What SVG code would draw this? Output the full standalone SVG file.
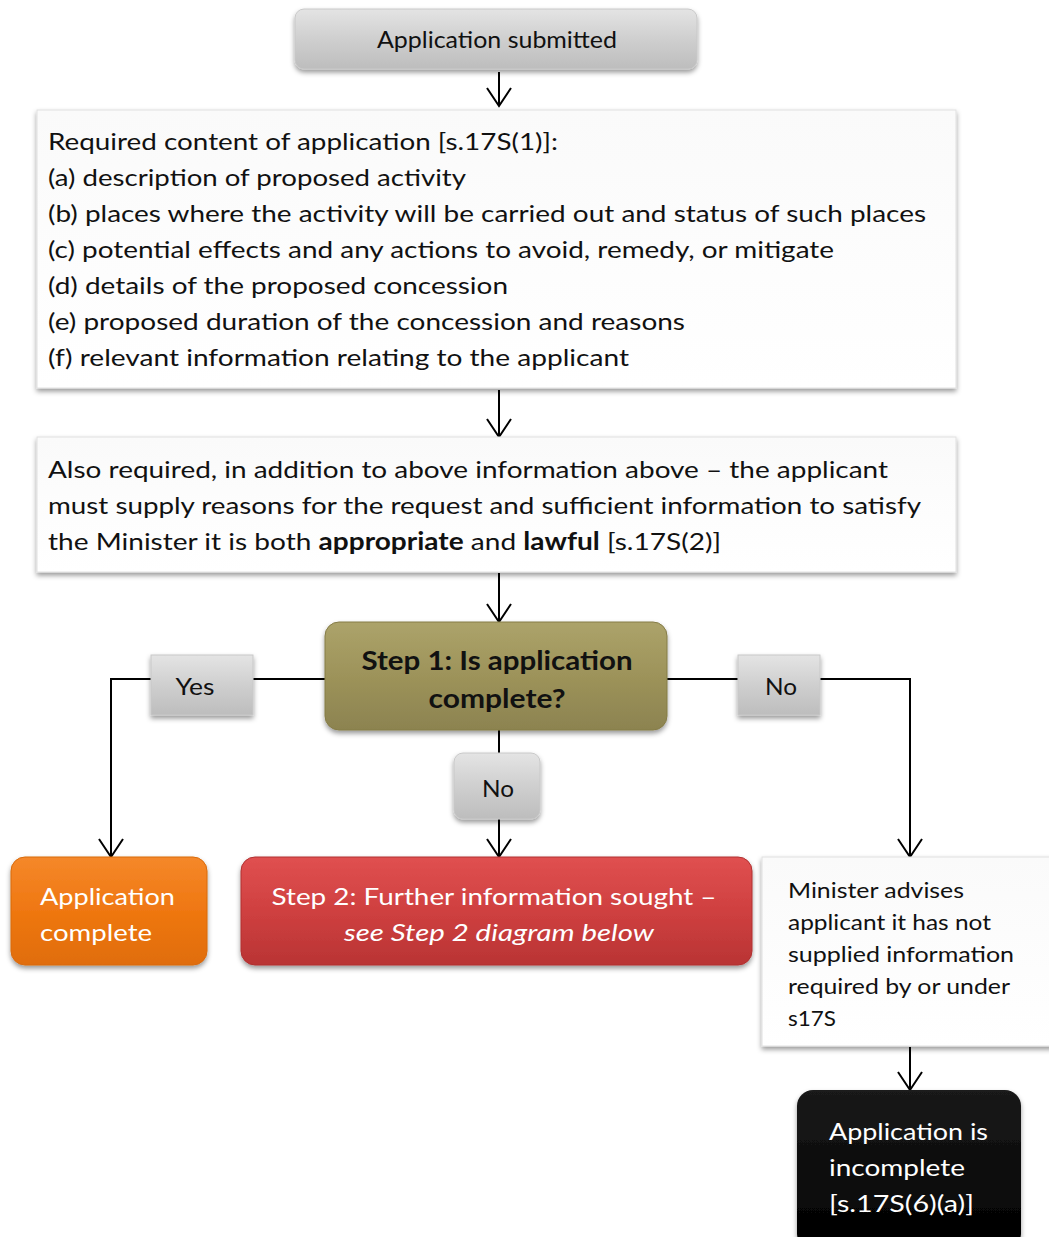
<svg xmlns="http://www.w3.org/2000/svg" width="1049" height="1237" viewBox="0 0 1049 1237">
<defs>
<linearGradient id="gGray" x1="0" y1="0" x2="0" y2="1">
<stop offset="0" stop-color="#e4e4e4"/><stop offset="0.5" stop-color="#cfcfcf"/><stop offset="1" stop-color="#bdbdbd"/>
</linearGradient>
<linearGradient id="gOlive" x1="0" y1="0" x2="0" y2="1">
<stop offset="0" stop-color="#aca36a"/><stop offset="0.5" stop-color="#9d935a"/><stop offset="1" stop-color="#8c8350"/>
</linearGradient>
<linearGradient id="gOrange" x1="0" y1="0" x2="0" y2="1">
<stop offset="0" stop-color="#f5882a"/><stop offset="0.5" stop-color="#ef7711"/><stop offset="1" stop-color="#e06d0d"/>
</linearGradient>
<linearGradient id="gRed" x1="0" y1="0" x2="0" y2="1">
<stop offset="0" stop-color="#e05050"/><stop offset="0.5" stop-color="#cf4040"/><stop offset="1" stop-color="#b93434"/>
</linearGradient>
<linearGradient id="gBlack" x1="0" y1="0" x2="0" y2="1">
<stop offset="0" stop-color="#1a1a1a"/><stop offset="1" stop-color="#000"/>
</linearGradient>
<linearGradient id="gWhite" x1="0" y1="0" x2="0" y2="1">
<stop offset="0" stop-color="#fafafa"/><stop offset="1" stop-color="#ffffff"/>
</linearGradient>
<filter id="sh" x="-10%" y="-10%" width="120%" height="130%">
<feDropShadow dx="0" dy="3" stdDeviation="2.5" flood-color="#000" flood-opacity="0.4"/>
</filter>
<marker id="ah" viewBox="-13 -20 26 22" refX="0" refY="0" markerWidth="26" markerHeight="22" markerUnits="userSpaceOnUse" orient="auto-start-reverse">
<path d="M-12,-18 L0,0 L12,-18" fill="none" stroke="#000" stroke-width="2"/>
</marker>
<marker id="av" viewBox="-13 -20 26 22" refX="0" refY="0" markerWidth="26" markerHeight="22" markerUnits="userSpaceOnUse" orient="0">
<path d="M-12,-18 L0,0 L12,-18" fill="none" stroke="#000" stroke-width="2"/>
</marker>
</defs>
<style>
text{font-family:Lato,"Open Sans","Liberation Sans",sans-serif;font-size:24px;fill:#111}
.w{fill:#fff}
.b{font-weight:bold}
.conn{fill:none;stroke:#000;stroke-width:2}
.arr{marker-end:url(#av)}
.rb{stroke:#c8c8c8;stroke-width:1}
</style>
<g id="connectors">
<path class="conn arr" d="M499,72 V106"/>
<path class="conn arr" d="M499,390 V437"/>
<path class="conn arr" d="M499,573 V622"/>
<path class="conn arr" d="M325,679 H111 V857"/>
<path class="conn arr" d="M667,679 H910 V857"/>
<path class="conn arr" d="M499,730 V857"/>
<path class="conn arr" d="M910,1047 V1090"/>
</g>
<g id="n-submitted">
<rect x="295" y="9" width="402" height="60" rx="9" fill="url(#gGray)" filter="url(#sh)" class="rb"/>
<text x="497" y="48" text-anchor="middle" textLength="240" lengthAdjust="spacingAndGlyphs">Application submitted</text>
</g>
<g id="n-required">
<rect x="37" y="110" width="919" height="278" fill="url(#gWhite)" filter="url(#sh)" stroke="#e0e0e0"/>
<text x="48" y="150" textLength="510" lengthAdjust="spacingAndGlyphs">Required content of application [s.17S(1)]:</text>
<text x="48" y="186" textLength="418" lengthAdjust="spacingAndGlyphs">(a) description of proposed activity</text>
<text x="48" y="222" textLength="878" lengthAdjust="spacingAndGlyphs">(b) places where the activity will be carried out and status of such places</text>
<text x="48" y="258" textLength="786" lengthAdjust="spacingAndGlyphs">(c) potential effects and any actions to avoid, remedy, or mitigate</text>
<text x="48" y="294" textLength="460" lengthAdjust="spacingAndGlyphs">(d) details of the proposed concession</text>
<text x="48" y="330" textLength="637" lengthAdjust="spacingAndGlyphs">(e) proposed duration of the concession and reasons</text>
<text x="48" y="366" textLength="581" lengthAdjust="spacingAndGlyphs">(f) relevant information relating to the applicant</text>
</g>
<g id="n-also">
<rect x="37" y="437" width="919" height="135" fill="url(#gWhite)" filter="url(#sh)" stroke="#e0e0e0"/>
<text x="48" y="478" textLength="840" lengthAdjust="spacingAndGlyphs">Also required, in addition to above information above – the applicant</text>
<text x="48" y="514" textLength="873" lengthAdjust="spacingAndGlyphs">must supply reasons for the request and sufficient information to satisfy</text>
<text x="48" y="550" textLength="673" lengthAdjust="spacingAndGlyphs">the Minister it is both <tspan class="b">appropriate</tspan> and <tspan class="b">lawful</tspan> [s.17S(2)]</text>
</g>
<g id="n-step1">
<rect x="325" y="622" width="342" height="108" rx="14" fill="url(#gOlive)" filter="url(#sh)" stroke="#857c47"/>
<text x="497" y="670" text-anchor="middle" class="b" style="font-size:26px" textLength="271" lengthAdjust="spacingAndGlyphs">Step 1: Is application</text>
<text x="497" y="708" text-anchor="middle" class="b" style="font-size:26px" textLength="137" lengthAdjust="spacingAndGlyphs">complete?</text>
</g>
<g id="l-yes">
<rect x="151" y="655" width="102" height="60" fill="url(#gGray)" filter="url(#sh)" class="rb"/>
<text x="195" y="695" text-anchor="middle" textLength="39" lengthAdjust="spacingAndGlyphs">Yes</text>
</g>
<g id="l-no-right">
<rect x="738" y="655" width="82" height="60" fill="url(#gGray)" filter="url(#sh)" class="rb"/>
<text x="781" y="695" text-anchor="middle" textLength="32" lengthAdjust="spacingAndGlyphs">No</text>
</g>
<g id="l-no-mid">
<rect x="454" y="753" width="86" height="66" rx="9" fill="url(#gGray)" filter="url(#sh)" class="rb"/>
<text x="498" y="797" text-anchor="middle" textLength="32" lengthAdjust="spacingAndGlyphs">No</text>
</g>
<g id="n-complete">
<rect x="11" y="857" width="196" height="108" rx="14" fill="url(#gOrange)" filter="url(#sh)" stroke="#d86a0c"/>
<text x="40" y="905" class="w" textLength="135" lengthAdjust="spacingAndGlyphs">Application</text>
<text x="40" y="941" class="w" textLength="112" lengthAdjust="spacingAndGlyphs">complete</text>
</g>
<g id="n-step2">
<rect x="241" y="857" width="511" height="108" rx="14" fill="url(#gRed)" filter="url(#sh)" stroke="#b03030"/>
<text x="494" y="905" class="w" text-anchor="middle" textLength="445" lengthAdjust="spacingAndGlyphs">Step 2: Further information sought –</text>
<text x="499" y="941" class="w" text-anchor="middle" font-style="italic" textLength="310" lengthAdjust="spacingAndGlyphs">see Step 2 diagram below</text>
</g>
<g id="n-advises">
<rect x="762" y="857" width="295" height="189" fill="url(#gWhite)" filter="url(#sh)" stroke="#e0e0e0"/>
<text x="788" y="898" style="font-size:22px" textLength="176" lengthAdjust="spacingAndGlyphs">Minister advises</text>
<text x="788" y="930" style="font-size:22px" textLength="203" lengthAdjust="spacingAndGlyphs">applicant it has not</text>
<text x="788" y="962" style="font-size:22px" textLength="226" lengthAdjust="spacingAndGlyphs">supplied information</text>
<text x="788" y="994" style="font-size:22px" textLength="222" lengthAdjust="spacingAndGlyphs">required by or under</text>
<text x="788" y="1026" style="font-size:22px" textLength="48" lengthAdjust="spacingAndGlyphs">s17S</text>
</g>
<g id="n-incomplete">
<rect x="797" y="1090" width="224" height="160" rx="16" fill="url(#gBlack)" filter="url(#sh)"/>
<text x="829" y="1140" class="w" textLength="159" lengthAdjust="spacingAndGlyphs">Application is</text>
<text x="829" y="1176" class="w" textLength="136" lengthAdjust="spacingAndGlyphs">incomplete</text>
<text x="829" y="1212" class="w" textLength="145" lengthAdjust="spacingAndGlyphs">[s.17S(6)(a)]</text>
</g>
</svg>
